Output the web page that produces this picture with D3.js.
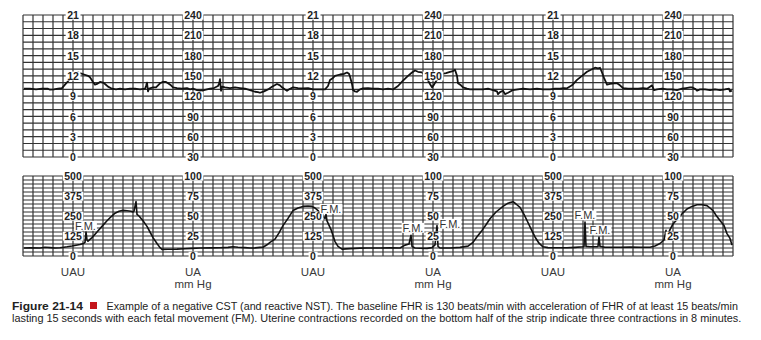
<!DOCTYPE html>
<html>
<head>
<meta charset="utf-8">
<script src="https://cdn.jsdelivr.net/npm/d3@7"></script>
<style>
  body { margin: 0; background: #fff; }
  svg { display: block; }
  .tick-lbl { font-family: "Liberation Sans", Arial, sans-serif; font-weight: bold; font-size: 10.5px; fill: #222; }
  .unit-lbl { font-family: "Liberation Sans", Arial, sans-serif; font-size: 11.5px; fill: #3a3a3a; }
  .fm-lbl { font-family: "Liberation Sans Narrow", "Liberation Sans", Arial, sans-serif; font-size: 11px; fill: #333; }
  .cap { font-family: "Liberation Sans Narrow", "Liberation Sans", Arial, sans-serif; font-size: 10.8px; fill: #222; }
</style>
</head>
<body>
<script>
// strip is 710 s wide, one grid column = 10 s
const width = 761, height = 340

// FHR trace (seconds, beats/min)
const fhrTime = [1,7,13,19,25,27,31,35,39,42,45,49,52,55,57,61,65,67,70,72,74,77,80,82,85,89,93,97,102,107,112,117,122,123,124,125,126,130,133,137,140,143,145,148,150,154,159,164,167,170,174,177,181,184,187,191,195,196,197,198,199,202,207,212,217,222,227,232,235,237,241,245,249,254,257,259,262,264,267,270,275,280,285,290,294,299,302,305,307,310,312,317,321,324,326,327,329,330,332,334,337,340,345,350,355,360,365,370,375,380,385,389,392,395,399,402,404,407,409,411,413,417,419,423,427,430,432,434,435,438,440,444,447,453,460,465,470,474,475,477,480,482,485,490,495,500,507,514,520,527,532,537,541,544,549,554,559,564,568,572,575,577,579,581,584,587,591,594,597,600,605,610,615,620,624,627,629,631,634,639,644,649,654,659,663,667,669,672,674,677,682,687,692,697,702,706,707,709]
const fhrBpm = [131,131,130,131,131,129.5,130,131,132,137,142,149,153,155,154,152,150,148,141,137,138,141,140,138,134,131,130,131,130,131,131,130,131,135,140,127,131,133,133,139,141,141,139,136,133,132,131,132,130,131,129,128,129,130,131,132,135,138,145,128,134,133,132,133,132,131,129,126.5,126,125,127,130,134,138,136,133,130,128,131,133,132,131.5,132,130,130,130,130,135,144,147,150,152,153,155,153,149,138,129,127,126.5,130,131.5,132,131,131,130,131,130,135,143,150,155,158,156,155,150,146,138,133,137,142,150,153,154,156,157,159,150,139,136,133,131,130,130,130,131,129,127,123,126,128,123,125,129,130,131,130,131,130,130,131,131,132,131.6,136,144,150,156,159,162,161,162,155,147,137,138,139,139,136,132,131,131,131,132,131,134,136,129,130,131,130,130,129,131,132,133,133,131,128,130,130,129,130,129,130,131,127,128]

// uterine activity trace (seconds, mm Hg)
const uaTime = [1,7,17,22,27,32,37,41,44,49,53,57,61,62,63,64,65,69,74,79,84,88,92,96,100,104,108,110,111,112,113,114,116,120,124,127,130,134,137,139,145,154,162,169,177,187,197,205,210,215,222,227,232,237,240,244,247,252,256,260,265,270,275,280,285,289,292,295,299,302,303,304,308,312,315,319,327,337,344,357,367,377,382,386,388,389,392,397,404,409,412,414,415,417,422,427,437,445,450,454,459,463,467,473,480,485,490,493,497,501,504,508,512,516,520,525,532,544,552,560,561,562,563,567,574,575,576,577,582,589,597,607,617,627,632,637,641,643,644,647,650,655,660,664,669,674,679,684,687,690,693,697,701,704,707,709]
const uaMmHg = [10,10.3,10,11,10.5,10,10.3,11,11.5,12.5,13.5,14.4,16,17,30,20,18.5,23,30,37,44,49,53.5,56,57,56.5,56,55,56,62,68,52,50,44,37,30,23,15.6,10.5,8.3,8.5,8.6,9,9.5,10,10.2,10.4,10.8,11.5,11,10.5,10,10.2,10.8,11,14,17,21,29,38,47,56.8,60,62,62.5,62,60,56.8,51,47,52,44,33,18,12,8.6,9.2,9.8,10,10,10.2,10,13.6,15,26,12,10,9.7,9.5,10.5,14,38,12,10,10,10,10.8,12.3,17,24,32,39,46.5,55,62,66,67.9,65,60.9,52,44.4,34,23.8,16,11.5,10.5,10.3,10.3,10.8,11.5,12,42.4,12,11.5,11.5,12,23.8,12,11,11,11,11.2,11,11,12.5,15.6,20,32,23.8,33,40,47,54,58.8,62,64,64,63,60,56.8,51,44.4,38,28,22,13.6]

// fetal movement marks (seconds, mm Hg)
const fmTime = [62.5, 308, 390, 427, 562, 577]
const fmLevel = [37.5, 58.75, 35, 40, 50.6, 31.9]

// scale label columns
const leftCols = [50, 290, 530]
const rightCols = [170, 410, 650]
const topLeftTicks = [0, 3, 6, 9, 12, 15, 18, 21]
const topRightTicks = [30, 60, 90, 120, 150, 180, 210, 240]
const botLeftTicks = [0, 125, 250, 375, 500]
const botRightTicks = [0, 25, 50, 75, 100]

const captionBold = "Figure 21-14"
const captionLine1 = "Example of a negative CST (and reactive NST). The baseline FHR is 130 beats/min with acceleration of FHR of at least 15 beats/min"
const captionLine2 = "lasting 15 seconds with each fetal movement (FM). Uterine contractions recorded on the bottom half of the strip indicate three contractions in 8 minutes."

var svg = d3.select("body").append("svg")
    .attr("width", width)
    .attr("height", height)

var x = d3.scaleLinear().domain([0, 710]).range([23, 733])

// top panel: left scale in units, right scale in bpm
var yTopUnits = d3.scaleLinear().domain([0, 21]).range([157, 15])
var yBpm = d3.scaleLinear().domain([30, 240]).range([157, 15])
// bottom panel
var yUau = d3.scaleLinear().domain([0, 500]).range([256, 176])
var yMm = d3.scaleLinear().domain([0, 100]).range([256, 176])

function drawGrid(yScale, yVals) {
    var g = svg.append("g").attr("class", "grid")
    var y0 = d3.min(yScale.range()), y1 = d3.max(yScale.range())
    g.selectAll(".v")
        .data(d3.range(0, 711, 10))
        .join("line")
        .attr("x1", d => x(d)).attr("x2", d => x(d))
        .attr("y1", y0).attr("y2", y1)
        .attr("stroke", "#333")
        .attr("stroke-width", 1.2)
    g.selectAll(".h")
        .data(yVals)
        .join("line")
        .attr("x1", x(0)).attr("x2", x(710))
        .attr("y1", d => yScale(d)).attr("y2", d => yScale(d))
        .attr("stroke", "#333")
        .attr("stroke-width", 1.2)
}

drawGrid(yTopUnits, d3.range(0, 22, 1))
drawGrid(yMm, d3.range(0, 101, 5))

var line = (yScale) => d3.line().x(d => x(d[0])).y(d => yScale(d[1]))

svg.append("path")
    .datum(fhrTime.map((t, i) => [t, fhrBpm[i]]))
    .attr("d", line(yBpm))
    .attr("fill", "none")
    .attr("stroke", "#111")
    .attr("stroke-width", 1.8)
    .attr("stroke-linejoin", "round")

svg.append("path")
    .datum(uaTime.map((t, i) => [t, uaMmHg[i]]))
    .attr("d", line(yMm))
    .attr("fill", "none")
    .attr("stroke", "#111")
    .attr("stroke-width", 1.6)
    .attr("stroke-linejoin", "round")

// scale labels sitting on the strip, white behind them
function labelColumn(col, yScale, ticks) {
    var g = svg.append("g")
        .attr("transform", `translate(${x(col)},0)`)
        .call(d3.axisLeft(yScale).tickValues(ticks).tickSize(0).tickPadding(0))
    g.select(".domain").remove()
    g.attr("font-family", null).attr("font-size", null)
    g.selectAll(".tick text")
        .attr("class", "tick-lbl")
        .attr("x", 0)
        .attr("text-anchor", "middle")
        .attr("dy", "0.35em")
        .attr("fill", null)
    g.selectAll(".tick").each(function() {
        var t = d3.select(this).select("text")
        var b = t.node().getBBox()
        d3.select(this).insert("rect", "text")
            .attr("x", b.x - 1.5).attr("y", b.y + 1.5)
            .attr("width", b.width + 3).attr("height", b.height - 3)
            .attr("fill", "#fff")
    })
}

leftCols.forEach(c => {
    labelColumn(c, yTopUnits, topLeftTicks)
    labelColumn(c, yUau, botLeftTicks)
})
rightCols.forEach(c => {
    labelColumn(c, yBpm, topRightTicks)
    labelColumn(c, yMm, botRightTicks)
})

// F.M. marks
fmTime.forEach((t, i) => {
    var g = svg.append("g")
    var txt = g.append("text")
        .attr("class", "fm-lbl")
        .attr("x", x(t)).attr("y", yMm(fmLevel[i]))
        .attr("dy", "0.35em")
        .attr("text-anchor", "middle")
        .text("F.M.")
    var b = txt.node().getBBox()
    g.insert("rect", "text")
        .attr("x", b.x - 1).attr("y", b.y + 1)
        .attr("width", b.width + 2).attr("height", b.height - 2)
        .attr("fill", "#fff")
})

// unit names under the strip
leftCols.forEach(c => {
    svg.append("text").attr("class", "unit-lbl")
        .attr("x", x(c)).attr("y", 276)
        .attr("text-anchor", "middle").text("UAU")
})
rightCols.forEach(c => {
    svg.append("text").attr("class", "unit-lbl")
        .attr("x", x(c)).attr("y", 276)
        .attr("text-anchor", "middle").text("UA")
    svg.append("text").attr("class", "unit-lbl")
        .attr("x", x(c)).attr("y", 288)
        .attr("text-anchor", "middle").text("mm Hg")
})

// caption: squeeze each piece horizontally to the width it has in the print
function captionText(str, x0, y0, w, bold) {
    var t = svg.append("text").attr("class", "cap")
        .attr("font-weight", bold ? "bold" : null)
        .text(str)
    var natural = t.node().getComputedTextLength()
    t.attr("transform", `translate(${x0},${y0}) scale(${w / natural},1)`)
}
captionText(captionBold, 12, 309.5, 71, true)
svg.append("rect")
    .attr("x", 90).attr("y", 302).attr("width", 7).attr("height", 7)
    .attr("fill", "#c4161c")
captionText(captionLine1, 106.5, 309.5, 632, false)
captionText(captionLine2, 12, 322, 730, false)
</script>
</body>
</html>
